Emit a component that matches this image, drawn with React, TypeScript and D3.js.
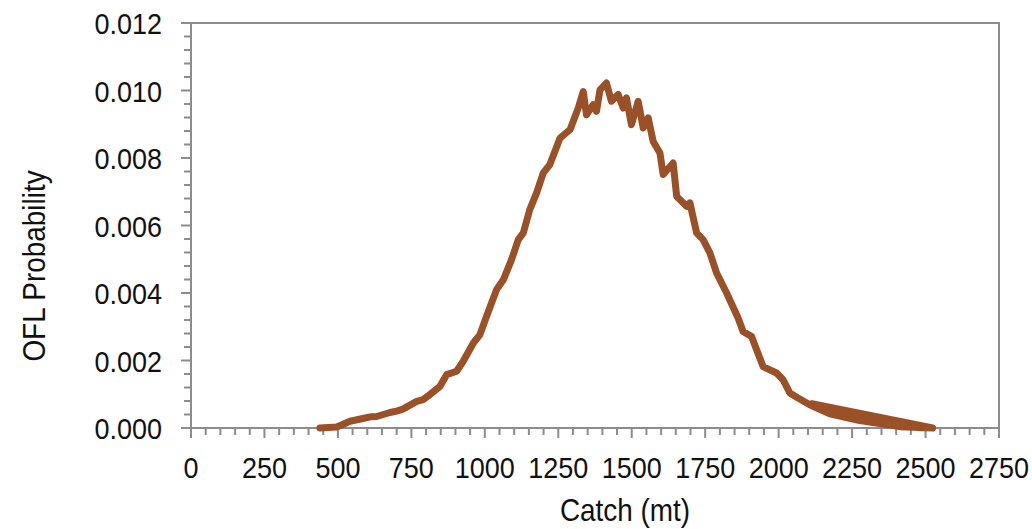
import React from "react";
import * as d3 from "d3";

// catch (mt) and probability, in drawing order (the tail folds back on itself)
const catchMt = [
  439, 496, 520, 541, 585, 610, 632, 677, 700, 721, 768, 790, 813, 847, 870, 904,
  926, 961, 983, 1006, 1040, 1063, 1091, 1114, 1131, 1153, 1176, 1199, 1221, 1256,
  1290, 1318, 1335, 1346, 1369, 1380, 1392, 1414, 1431, 1454, 1471, 1482, 1499,
  1522, 1539, 1556, 1573, 1596, 1607, 1641, 1653, 1687, 1698, 1721, 1743, 1766,
  1789, 1823, 1862, 1879, 1908, 1925, 1947, 1993, 2015, 2038, 2066, 2106, 2174,
  2276, 2412, 2524, 2113, 2480,
];
const prob = [
  0.0, 0.00003, 0.00012, 0.0002, 0.00028, 0.00033, 0.00034, 0.00046, 0.0005,
  0.00056, 0.00079, 0.00084, 0.00099, 0.00123, 0.00158, 0.00168, 0.00197, 0.00252,
  0.00276, 0.00331, 0.0041, 0.00439, 0.00499, 0.00558, 0.00578, 0.00647, 0.00696,
  0.00756, 0.0078, 0.00859, 0.00884, 0.00948, 0.00997, 0.00928, 0.00958, 0.00938,
  0.01002, 0.01022, 0.00968, 0.00988, 0.00948, 0.00978, 0.00899, 0.00968, 0.00889,
  0.00919, 0.00849, 0.00815, 0.00751, 0.00785, 0.00686, 0.00657, 0.00667, 0.00578,
  0.00558, 0.00519, 0.00459, 0.004, 0.00326, 0.00286, 0.00271, 0.00232, 0.00182,
  0.00163, 0.00143, 0.00104, 0.00089, 0.00069, 0.00042, 0.00022, 0.00004, 0.0,
  0.00072, 0.00001,
];

const xTicks = [0, 250, 500, 750, 1000, 1250, 1500, 1750, 2000, 2250, 2500, 2750];
const yTicks = [0, 0.002, 0.004, 0.006, 0.008, 0.01, 0.012];

const W = 1032;
const H = 529;
const left = 191;
const right = 999;
const top = 23;
const bottom = 428;
const axisColor = "#8c8c8c";

// narrow text: Arial-like face squeezed horizontally
const Narrow = ({ x, y, anchor, size, rotate, children }: any) => (
  <g transform={`translate(${x},${y})${rotate ? ` rotate(${rotate})` : ""} scale(0.9,1)`}>
    <text
      textAnchor={anchor}
      fontSize={size}
      fontFamily="'Liberation Sans', Arial, sans-serif"
      fill="#111"
    >
      {children}
    </text>
  </g>
);

export default function App() {
  const x = d3.scaleLinear().domain([0, 2750]).range([left, right]);
  const y = d3.scaleLinear().domain([0, 0.012]).range([bottom, top]);

  const pts = catchMt.map((c, i) => [c, prob[i]] as [number, number]);
  const line = d3
    .line<[number, number]>()
    .x((d) => x(d[0]))
    .y((d) => y(d[1]));

  const xMinor = d3.range(0, 2751, 50);
  const yMinor = d3.range(0, 31).map((i) => i * 0.0004);

  return (
    <svg
      width={W}
      height={H}
      style={{ position: "absolute", left: 0, top: 0, background: "#fff" }}
    >
      {/* frame */}
      <rect
        x={left}
        y={top}
        width={right - left}
        height={bottom - top}
        fill="none"
        stroke={axisColor}
        strokeWidth={2}
      />

      {/* y ticks */}
      {yMinor.map((v, i) => (
        <line
          key={"ym" + i}
          x1={i % 5 === 0 ? left - 10 : left - 7}
          x2={left}
          y1={y(v)}
          y2={y(v)}
          stroke={axisColor}
          strokeWidth={2}
        />
      ))}
      {yTicks.map((v) => (
        <Narrow key={"yl" + v} x={162} y={y(v) + 11} anchor="end" size={30}>
          {v.toFixed(3)}
        </Narrow>
      ))}

      {/* x ticks */}
      {xMinor.map((v, i) => (
        <line
          key={"xm" + i}
          x1={x(v)}
          x2={x(v)}
          y1={bottom}
          y2={i % 5 === 0 ? bottom + 10 : bottom + 7}
          stroke={axisColor}
          strokeWidth={2}
        />
      ))}
      {xTicks.map((v) => (
        <Narrow key={"xl" + v} x={x(v)} y={478} anchor="middle" size={30}>
          {v}
        </Narrow>
      ))}

      {/* axis titles */}
      <Narrow x={625} y={521} anchor="middle" size={31}>
        Catch (mt)
      </Narrow>
      <Narrow x={45} y={266} anchor="middle" size={31} rotate={-90}>
        OFL Probability
      </Narrow>

      {/* curve */}
      <path
        d={line(pts) ?? ""}
        fill="none"
        stroke="#9b5128"
        strokeWidth={7}
        strokeLinejoin="round"
        strokeLinecap="round"
      />
    </svg>
  );
}
